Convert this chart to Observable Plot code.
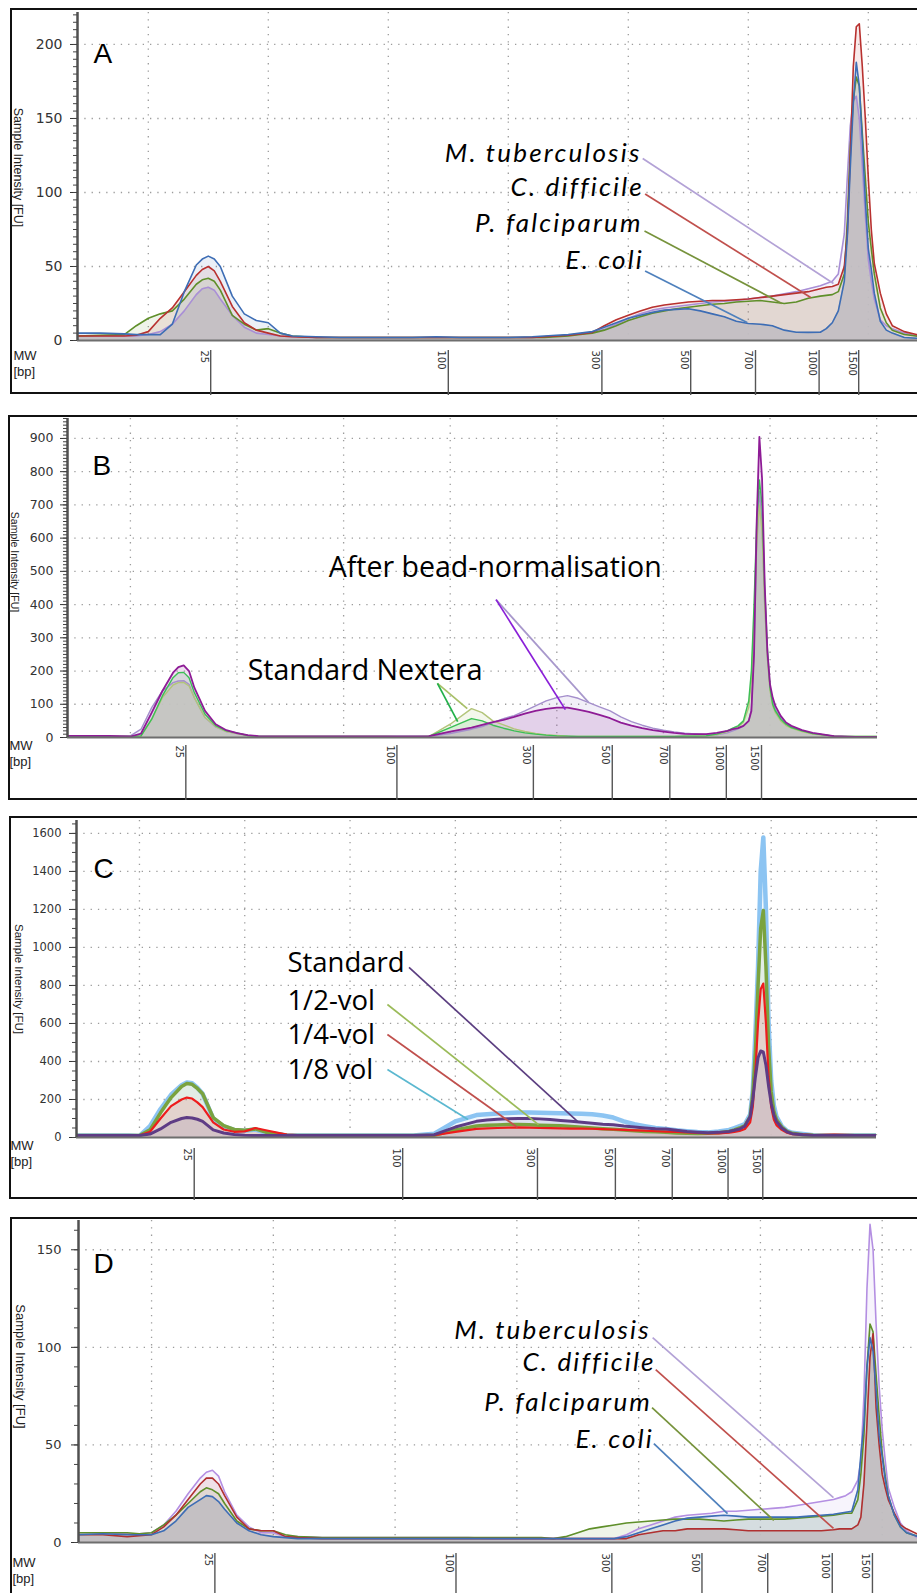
<!DOCTYPE html>
<html><head><meta charset="utf-8">
<script src="https://cdn.jsdelivr.net/npm/d3@7"></script>
<script src="https://cdn.jsdelivr.net/npm/@observablehq/plot@0.6"></script>
<style>
html,body{margin:0;padding:0;background:#fff;overflow:hidden;}
#page{position:relative;width:917px;height:1593px;overflow:hidden;background:#fff;}
.box{position:absolute;border:2px solid #111;box-sizing:border-box;}
svg{position:absolute;left:0;}
</style></head><body><div id="page"></div>
<script>
// ---- shared axis data (migration time, s) ----
const time = [44,46,48,49,50,51,52,53,54,54.5,55,55.5,56,57,58,59,60,61,62,64,66,68,70,72,74,76,78,80,82,83,84,85,86,87,88,89,90,91,92,93,94,95,96,97,98,99,100,101,102,103,104,105,106,106.5,107,107.5,108,108.25,108.5,108.75,109,109.25,109.5,109.75,110,110.25,110.5,111,111.5,112,113,114,116,118,120];
const gridTime = [50,60,70,80,90,100,110,120];
const bpLabels = [25,100,300,500,700,1000,1500];
const bpTime = [55.2,75.0,87.8,95.2,100.6,105.9,109.2];

// ---- Panel A ----
const aEcoli = [5,5,4.5,4,4, 4,11,33,51,55, 57,55,50,30,18, 13.5,12,5,3,2.5, 2,2,2,2,2.5, 2,2,2,2.5,3, 3.5,4,5,6,9, 12,15,17,19,20.5, 21,21.5,20,18,16, 13,11.5,11,10,7, 5.6,5.5,5.6,8,12, 20,40,70,117,160, 188,172,135,95,62, 48,32,13,7,5, 2,1.5,1,1,1];
const aCdiff = [3,3,3,3.5,6, 15,22,33,44,48, 50,47,40,23,12, 7,5,3,2.5,2, 2,2,2,2,2, 2,2,2,2,2.5, 3,3.5,4.5,5.5,10, 14,17,20,22.5,24, 25,26,26.5,27,27, 27.5,28,29,30,31, 32,33,35,36,36.5, 38,50,72,125,185, 212,214,185,150,110, 75,52,32,18,10, 6,4,3,3,3];
const aPfal = [3,3.5,4,10,15, 18,20,28,38,41, 42,40,34,17,11, 7,8,5,3,2, 2,2,2,2,2, 2,2,2,2,2, 2.5,3,4,5,7, 10,13.5,16,18.5,20, 21.5,22.5,23.5,24.5,25, 26,26.5,27,26,25, 26,28.5,30,30.5,31, 33,45,80,130,162, 178,172,140,110,80, 62,45,22,12,7, 4,3,2,2,2];
const aMtb = [3,3,3,3,4, 6,11,20,31,35, 36,34,28,17,9, 5,4,3,2.5,2, 2,2,2,2,2, 2,2,2,2,2.5, 3,3.5,4.5,5.5,7.5, 11,15,18,20.5,22, 23,24,25,26,26.5, 27,28,29,30,31.5, 33,35,37,38.5,40, 45,72,110,145,162, 165,150,117,85,55, 40,28,14,10,8, 5,3,2,2,2];
const aLabels = ["M. tuberculosis","C. difficile","P. falciparum","E. coli"];
const aLabelT = [91.1,91.3,91.2,91.3];
const aLabelV = [126,103,79,54];
const aLinkT1 = [91.2,91.4,91.35,91.4];
const aLinkV1 = [123,99,74,47];
const aLinkT2 = [107.1,105.2,102.8,99.9];
const aLinkV2 = [38.5,29,25,12.2];

// ---- Panel B ----
const bBeadDark = [5,5,5,4,3, 12,75,140,195,212, 217,200,150,80,40, 22,13,7,4,3, 3,3,3,3,3, 3,4,18,30,38, 46,53,62,72,80, 86,90,90,84,77, 68,58,45,36,28, 22,18,14,11,10, 10,14,20,25,28, 35,50,80,250,650, 905,780,460,260,160, 120,95,65,45,35, 22,14,4,2,2];
const bBeadLight = [3,3,3,3,5, 25,90,140,165,170, 171,160,120,60,32, 18,12,6,3,3, 3,3,3,3,3, 3,3,12,25,33, 45,57,66,80,95, 110,120,126,118,105, 92,80,62,48,37, 28,22,17,13,11, 9,8,14,20,26, 34,50,85,260,600, 740,650,400,240,150, 110,85,60,42,32, 20,12,4,2,2];
const bStdGreen = [3,3,3,3,3, 5,55,125,180,195, 196,180,135,70,36, 20,14,6,3,3, 3,3,3,3,3, 3,3,30,57,50, 37,28,20,14,10, 7,5,4,3,3, 3,3,3,3,3, 3,3,3,4,4, 5,10,20,28,35, 50,110,200,400,650, 775,700,450,270,150, 100,80,55,40,30, 20,12,4,3,3];
const bStdLight = [3,3,3,3,3, 5,55,120,158,165, 166,155,120,60,33, 18,12,6,3,3, 3,3,3,3,3, 2,3,40,87,75, 50,38,26,18,12, 8,6,4,3,3, 3,3,3,3,3, 3,3,3,4,4, 5,9,18,25,32, 45,90,170,350,580, 700,620,400,240,140, 95,75,50,36,28, 18,10,4,3,3];
const bLabels = ["After bead-normalisation","Standard Nextera"];
const bLabelT = [68.6,61.0];
const bLabelV = [509,202];
const bLinkT1 = [84.3,84.3,78.8,78.8];
const bLinkV1 = [415,415,163,163];
const bLinkT2 = [93.0,90.8,81.6,80.7];
const bLinkV2 = [105,84,87,48];

// ---- Panel C ----
const cVol8 = [10,10,10,10,8, 60,150,225,275,290, 285,262,230,100,58, 40,36,42,26,11, 10,10,10,10,10, 10,20,85,118,122, 126,129,131,131,130, 129,127,126,125,122, 116,105,85,70,60, 50,45,38,33,29, 27,32,40,50,60, 70,120,250,550,900, 1400,1579,1200,600,300, 170,110,60,35,25, 18,12,10,10,10];
const cVol2 = [10,10,10,10,10, 40,130,210,268,284, 280,258,230,105,62, 42,38,45,28,12, 10,10,10,10,10, 10,12,40,60,64, 66,68,68,67,65, 63,62,58,54,50, 46,43,40,36,32, 30,27,24,22,21, 22,25,32,40,50, 62,110,230,450,800, 1100,1195,900,480,240, 140,95,55,32,22, 15,12,10,10,10];
const cVol4 = [10,10,10,10,10, 30,100,165,200,210, 205,185,160,80,42, 30,32,50,38,15, 10,10,10,10,10, 10,12,30,45,48, 50,52,53,52,50, 49,48,47,47,46, 44,42,40,38,36, 33,31,29,27,24, 22,22,25,30,35, 45,80,160,350,600, 780,810,600,320,160, 95,65,40,25,18, 15,12,15,12,10];
const cStd = [10,10,10,10,10, 18,45,80,100,105, 103,96,85,40,24, 16,12,10,10,10, 10,10,10,10,10, 10,15,55,85,92, 96,99,100,100,98, 95,90,85,80,75, 70,67,60,55,50, 46,45,38,32,28, 25,27,32,38,45, 60,110,200,320,420, 455,450,380,270,180, 120,85,50,30,20, 14,11,10,10,10];
const cLabels = ["Standard","1/2-vol","1/4-vol","1/8 vol"];
const cLabelT = [64.05,64.05,64.05,64.05];
const cLabelV = [916,716,537,353];
const cLinkT1 = [75.6,73.55,73.55,73.55];
const cLinkV1 = [895,700,542,358];
const cLinkT2 = [91.7,87.9,85.9,81.2];
const cLinkV2 = [79,68,53,95];

// ---- Panel D ----
const dMtb = [5,5,4.5,4.5,5, 9,16,25,33,36, 37,34,26,14,8, 5,5,3,3,2.5, 2.5,2.5,2.5,2.5,2.5, 2.5,2,2,2,2, 2,2,2,2,2, 4,7,9,11,13, 14,14.5,15,16,16, 16.5,17,17.5,18,19, 20,21,22,23,24, 26,32,42,75,130, 163,150,112,80,58, 42,28,18,10,6, 2,2,2,2,2];
const dCdiff = [4,4,3,3.5,4, 8,14,22,30,33, 33,30,24,13,7, 6,6,3,2.5,2, 2,2,2,2,2, 2,2,2,2,2, 2,2,2,2,2, 2,4,5,6,6, 7,7,7,7,6.5, 6,6,6,6,6, 6,6,6.5,7,7, 7,9,13,30,61, 95,107,69,50,35, 28,22,15,9,7, 4,3,2,2,2];
const dPfal = [5,5,5,4.5,5, 9,14,20,26,28, 27,25,20,11,7, 6,6,4,3,2.5, 2.5,2.5,2.5,2.5,2.5, 2.5,2.5,2.5,2.5,2, 3,5,7,8,9, 10,10.5,11,11.5,12, 12,12,11.5,11,11.5, 12,12,12,12,12.5, 13,13.5,14,14.5,15, 15,22,35,55,90, 112,108,86,65,46, 34,24,14,8,5, 3,2,2,2,2];
const dEcoli = [4,4.5,4,4,4, 6,11,18,22,24, 23.5,21,17,10,6, 4,3,2.5,2,2, 2,2,2,2,2, 2,2,2,2,2, 2,2,2,2,2, 3,5,7,9,11, 12.5,13,13.5,14,13.5, 13,13,13,13,13, 13.5,14,14.5,15,15.5, 16,27,45,61,90, 105,98,78,55,44, 32,24,14,8,5, 3,2,2,2,2];
const dLabels = ["M. tuberculosis","C. difficile","P. falciparum","E. coli"];
const dLabelT = [91.0,91.4,91.1,91.25];
const dLabelV = [108.5,92.2,71.7,52.7];
const dLinkT1 = [91.15,91.4,91.1,91.25];
const dLinkV1 = [105,88.6,69.1,50.7];
const dLinkT2 = [106.0,106.0,101.1,97.3];
const dLinkV2 = [23,7.2,11.3,14.8];

const yTitle = "Sample Intensity [FU]";
const page = document.getElementById("page");

function addBox(l, t, w, h) {
  const d = document.createElement("div");
  d.className = "box";
  Object.assign(d.style, {left: l + "px", top: t + "px", width: w + "px", height: h + "px"});
  page.appendChild(d);
}

function range(a, b, s) { return d3.range(a, b + s / 2, s); }

function buildPanel(c) {
  const [x0, x1] = c.xDomain;
  const marks = [];
  const grid = {stroke: "#9c9c9c", strokeOpacity: 1, strokeWidth: 1.3, strokeDasharray: "1.3,6"};
  marks.push(Plot.gridX(gridTime.filter(t => t > x0 && t <= x1 + 0.1), grid));
  marks.push(Plot.gridY(c.yMajor.filter(v => v > 0), grid));
  const rowsOf = vals => time.map((t, i) => ({t, v: vals[i]}));
  for (const s of c.series) marks.push(Plot.areaY(rowsOf(s.values), {x: "t", y: "v", fill: s.color, fillOpacity: c.tint, clip: true}));
  const env = time.map((t, i) => ({t, v: d3.min(c.series, s => s.values[i])}));
  marks.push(Plot.areaY(env, {x: "t", y: "v", fill: c.baseFill, fillOpacity: 0.92, clip: true}));
  for (const s of c.series) marks.push(Plot.line(rowsOf(s.values), {x: "t", y: "v", stroke: s.color, strokeWidth: s.width, strokeLinejoin: "round", clip: true}));
  marks.push(Plot.ruleY([0], {stroke: "#6e6e6e", strokeWidth: 2}));
  marks.push(Plot.ruleX([x0], {stroke: "#505050", strokeWidth: 2.5}));
  marks.push(Plot.axisY(c.yMajor, {tickSize: 7, tickPadding: c.tickPad, tickFormat: d => String(d), label: null, color: "#333", fontSize: c.tickFont, fontFamily: "DejaVu Sans"}));
  marks.push(Plot.axisY(c.yMinor, {tickSize: 4, tickFormat: () => "", label: null, color: "#444"}));
  const bpRows = bpLabels.map((b, i) => ({bp: String(b), t: bpTime[i]})).filter(d => d.t > x0 && d.t < x1);
  marks.push(Plot.axisX(bpRows.map(d => d.t), {tickSize: c.mB - c.bpDy, dy: c.bpDy, tickFormat: () => "", label: null, color: "#555", strokeWidth: 1.4}));
  marks.push(Plot.text(bpRows, {x: "t", text: "bp", frameAnchor: "bottom", rotate: 90, textAnchor: "start", lineAnchor: "top", dy: c.bpDy, dx: -3, fontSize: 10, fontFamily: "DejaVu Sans", fill: "#333"}));
  marks.push(Plot.text([yTitle], {text: d => d, frameAnchor: "left", textAnchor: "middle", rotate: 90, dx: c.yTitleDx, dy: c.yTitleDy, fontSize: c.yTitleFont, fontFamily: "Liberation Sans, Arial", fill: "#222"}));
  marks.push(Plot.text([c.letter], {text: d => d, frameAnchor: "top-left", textAnchor: "start", dx: c.letterDx, dy: c.letterDy, fontSize: 28, fontFamily: "Liberation Sans, Arial", fill: "#000"}));
  marks.push(Plot.text(["MW\n[bp]"], {text: d => d, frameAnchor: "bottom-left", textAnchor: "start", lineAnchor: "top", dx: c.mwX - c.mL, dy: c.mwDy, fontSize: 13, lineHeight: 1.25, fontFamily: "Liberation Sans, Arial", fill: "#222"}));
  c.labels.forEach((lab, i) => {
    marks.push(Plot.text([{t: c.labelT[i], v: c.labelV[i], label: lab}], {x: "t", y: "v", text: "label", textAnchor: c.labelAnchor, fontSize: c.labelFont, fontStyle: c.labelStyle, fontFamily: c.labelFamily, fill: "#000"}));
  });
  c.linkColors.forEach((col, i) => {
    marks.push(Plot.link([{t1: c.linkT1[i], v1: c.linkV1[i], t2: c.linkT2[i], v2: c.linkV2[i]}], {x1: "t1", y1: "v1", x2: "t2", y2: "v2", stroke: col, strokeWidth: 1.7}));
  });
  const svg = Plot.plot({
    width: 917, height: c.height,
    marginLeft: c.mL, marginRight: c.mR, marginTop: c.mT, marginBottom: c.mB,
    x: {type: "linear", domain: c.xDomain},
    y: {type: "linear", domain: c.yDomain},
    style: {background: "transparent", overflow: "visible", fontFamily: "DejaVu Sans"},
    marks
  });
  if (c.labelSpacing) {
    d3.select(svg).selectAll("text")
      .filter(function () { return c.labels.includes(this.textContent); })
      .attr("letter-spacing", c.labelSpacing);
  }
  svg.style.top = c.top + "px";
  page.appendChild(svg);
}

addBox(10, 8, 930, 386);
addBox(8, 415, 930, 385);
addBox(9, 816, 930, 383);
addBox(10, 1217, 930, 420);

buildPanel({
  top: 0, height: 395, mL: 77, mR: 0, mT: 12, mB: 55,
  xDomain: [44.1, 114.1], yDomain: [0, 221.6],
  yMajor: range(0, 200, 50), yMinor: range(0, 220, 5),
  series: [
    {values: aMtb, color: "#a98fd6", width: 1.6},
    {values: aPfal, color: "#5f8f2a", width: 1.6},
    {values: aCdiff, color: "#b8312f", width: 1.6},
    {values: aEcoli, color: "#3d6db5", width: 1.6}
  ],
  tint: 0.1, baseFill: "#c3bfc3", tickFont: 14, tickPad: 8,
  bpDy: 10, letter: "A", letterDx: 16, letterDy: 31, mwX: 13, mwDy: 8,
  yTitleDx: -60, yTitleDy: -9, yTitleFont: 12.5,
  labels: aLabels, labelT: aLabelT, labelV: aLabelV, labelAnchor: "end", labelFont: 26, labelStyle: "italic",
  labelFamily: "Lato", labelSpacing: 2.2,
  linkT1: aLinkT1, linkV1: aLinkV1, linkT2: aLinkT2, linkV2: aLinkV2,
  linkColors: ["#b3a2d6", "#c0504d", "#77933c", "#4f81bd"]
});

buildPanel({
  top: 400, height: 400, mL: 67, mR: 40, mT: 18, mB: 63,
  xDomain: [44.1, 120.08], yDomain: [0, 960],
  yMajor: range(0, 900, 100), yMinor: range(0, 960, 10),
  series: [
    {values: bBeadLight, color: "#a58fcc", width: 1.4},
    {values: bStdLight, color: "#b3c57a", width: 1.4},
    {values: bStdGreen, color: "#3cbf55", width: 1.4},
    {values: bBeadDark, color: "#8e1c96", width: 1.8}
  ],
  tint: 0.14, baseFill: "#c6c6c2", tickFont: 12.5, tickPad: 7,
  bpDy: 8, letter: "B", letterDx: 25, letterDy: 37, mwX: 9, mwDy: 1,
  yTitleDx: -53, yTitleDy: -16, yTitleFont: 10.5,
  labels: bLabels, labelT: bLabelT, labelV: bLabelV, labelAnchor: "start", labelFont: 28.5, labelStyle: "normal",
  labelFamily: "Open Sans", labelSpacing: 0,
  linkT1: bLinkT1, linkV1: bLinkV1, linkT2: bLinkT2, linkV2: bLinkV2,
  linkColors: ["#a898cc", "#8a1fd8", "#a8c068", "#22b04a"]
});

buildPanel({
  top: 805, height: 395, mL: 76, mR: 41, mT: 15, mB: 63,
  xDomain: [44.02, 120], yDomain: [0, 1668],
  yMajor: range(0, 1600, 200), yMinor: range(0, 1650, 50),
  series: [
    {values: cVol8, color: "#8cc4f2", width: 4.5},
    {values: cVol2, color: "#7aa33f", width: 3.5},
    {values: cVol4, color: "#ee1c1c", width: 2.2},
    {values: cStd, color: "#5e3c85", width: 3}
  ],
  tint: 0.12, baseFill: "#d3c3c5", tickFont: 11.5, tickPad: 8,
  bpDy: 11, letter: "C", letterDx: 17, letterDy: 38, mwX: 10, mwDy: 1,
  yTitleDx: -58, yTitleDy: 0, yTitleFont: 11.5,
  labels: cLabels, labelT: cLabelT, labelV: cLabelV, labelAnchor: "start", labelFont: 27.5, labelStyle: "normal",
  labelFamily: "Open Sans", labelSpacing: 0,
  linkT1: cLinkT1, linkV1: cLinkV1, linkT2: cLinkT2, linkV2: cLinkV2,
  linkColors: ["#5b3e80", "#9bbb59", "#c0504d", "#5bb8d0"]
});

buildPanel({
  top: 1205, height: 388, mL: 78, mR: 0, mT: 15, mB: 51,
  xDomain: [44.0, 112.9], yDomain: [0, 165],
  yMajor: range(0, 150, 50), yMinor: range(0, 160, 10),
  series: [
    {values: dMtb, color: "#b48fe2", width: 1.6},
    {values: dPfal, color: "#5f8f2a", width: 1.6},
    {values: dCdiff, color: "#b03030", width: 1.6},
    {values: dEcoli, color: "#3d6db5", width: 1.6}
  ],
  tint: 0.1, baseFill: "#c2bfc2", tickFont: 13, tickPad: 10,
  bpDy: 11, letter: "D", letterDx: 15, letterDy: 33, mwX: 12, mwDy: 13,
  yTitleDx: -58, yTitleDy: -15, yTitleFont: 13,
  labels: dLabels, labelT: dLabelT, labelV: dLabelV, labelAnchor: "end", labelFont: 26, labelStyle: "italic",
  labelFamily: "Lato", labelSpacing: 2.2,
  linkT1: dLinkT1, linkV1: dLinkV1, linkT2: dLinkT2, linkV2: dLinkV2,
  linkColors: ["#b3a2d6", "#c0504d", "#77933c", "#4f81bd"]
});
</script>
</body></html>
